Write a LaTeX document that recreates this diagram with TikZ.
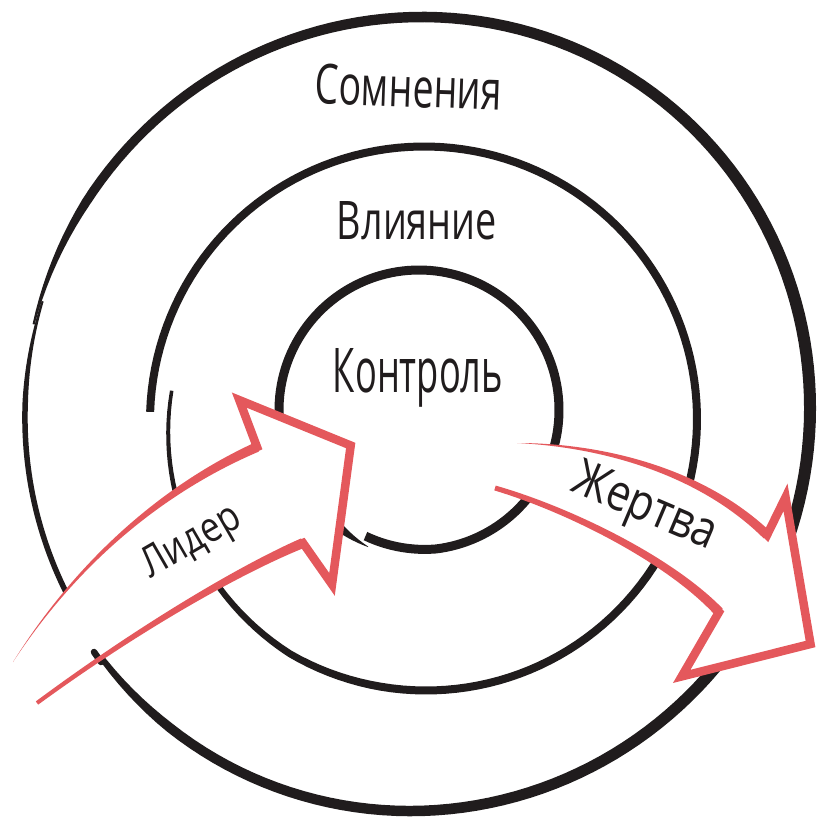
\documentclass[tikz,border=0pt]{standalone}
\usepackage{fontspec}
\usepackage{graphicx}
\newfontfamily\hand{Open Sans}
\definecolor{ink}{RGB}{32,28,29}
\definecolor{arrowred}{RGB}{228,88,92}
\newcommand\inkring[6]{%
  \fill[ink] plot[domain=#5:#6,samples=160] ({#1+(#3(\x)+0.5*#4(\x))*cos(\x)},{#2+(#3(\x)+0.5*#4(\x))*sin(\x)})
   -- plot[domain=#6:#5,samples=160] ({#1+(#3(\x)-0.5*#4(\x))*cos(\x)},{#2+(#3(\x)-0.5*#4(\x))*sin(\x)}) -- cycle;}
\begin{document}
\begin{tikzpicture}[x=1pt,y=-1pt,
  declare function={
    oar(\t)=397-3*(cos(\t))^2-3*sin(2*(\t));
    oaw(\t)=10.5+1.5*cos(\t)-7*max(0,1-((\t)+166.8)/20)-4*max(0,1-(143.7-(\t))/15);
    obr(\t)=390+3*(-163.2-(\t))/48;
    obw(\t)=5.5-3.5*max(0,1-(-163.2-(\t))/15);
    mr(\t)=270-15*max(0,((\t)-120)/66.6)+5*max(0,(120-(\t))/298.3);
    mw(\t)=8-4.5*max(0,((\t)-100)/86.6);
    ir(\t)=140-3*max(0,1-(113-(\t))/30)+6*max(0,1-((\t)+249.6)/20);
    iw(\t)=9-8.5*max(0,1-((\t)+249.6)/14);
  },
  headline/.style={draw=arrowred,line width=8.5,line join=miter},
  label/.style={inner sep=0pt,text=ink}]
\useasboundingbox (0,0) rectangle (817,818);
% rings
\inkring{416}{414}{oar}{oaw}{-166.8}{143.7}
\inkring{416}{414}{obr}{obw}{-212}{-163.2}
\inkring{425}{420}{mr}{mw}{-178.3}{186.6}
\inkring{419}{410}{ir}{iw}{-249.6}{113}
% arrow interiors
\fill[white] (13,662) .. controls (85,550) and (175,483) .. (257,447) -- (239.3,400.1) -- (350.7,445.5) -- (332,584.4) -- (303,543) .. controls (250,565) and (150,620) .. (37,703) -- cycle;
\fill[white] (517,443) .. controls (600,445) and (700,470) .. (767,535) -- (785.5,497.3) -- (810.5,644) -- (681.7,676.4) -- (719,612) .. controls (670,560) and (570,510) .. (495,488) -- cycle;
% start of outer stroke
\draw[ink,line width=6.5,line cap=round] (94,652) -- (101,662);
% left arrow
\fill[arrowred] (13,662) .. controls (83.9,549) and (173.2,480) .. (255.2,442.4) -- (258.8,451.6) .. controls (176.8,486.5) and (86.1,551) .. (13,662) -- cycle;
\fill[arrowred] (301.1,538.4) .. controls (248.2,561.4) and (148.6,617.9) .. (35.8,701.4) -- (38.2,704.6) .. controls (151.4,622.1) and (251.8,568.6) .. (304.9,547.6) -- cycle;
\path[headline] (252.4,449) -- (257,447) -- (239.3,400.1) -- (350.7,445.5) -- (332,584.4) -- (303,543) -- (298.4,544.9);
% right arrow
\fill[arrowred] (517,443) .. controls (600.2,443) and (701.8,466.7) .. (770.3,531.6) -- (763.7,538.4) .. controls (698.2,473.3) and (599.8,447) .. (517,443) -- cycle;
\fill[arrowred] (494.3,490.4) .. controls (568.9,512.8) and (667.7,563.3) .. (715.4,615.4) -- (722.6,608.6) .. controls (672.3,556.7) and (571.1,507.2) .. (495.7,485.6) -- cycle;
\path[headline] (763.4,531.5) -- (767,535) -- (785.5,497.3) -- (810.5,644) -- (681.7,676.4) -- (719,612) -- (715.6,608.4);
% labels
\node[label,anchor=base,rotate=-2] (somn) at (408,107) {\resizebox{187pt}{40pt}{\hand Сомнения}};
\node[label,anchor=base] (vliy) at (417,240) {\resizebox{160pt}{38pt}{\hand Влияние}};
\node[label,anchor=base] (kontr) at (418,392) {\resizebox{170pt}{44pt}{\hand Контроль}};
\node[label,rotate=30] (lider) at (192,543) {\resizebox{108pt}{30pt}{\hand Лидер}};
\node[label,rotate=-23] (zhert) at (644,509) {\resizebox{152pt}{36pt}{\hand Жертва}};
\end{tikzpicture}
\end{document}
